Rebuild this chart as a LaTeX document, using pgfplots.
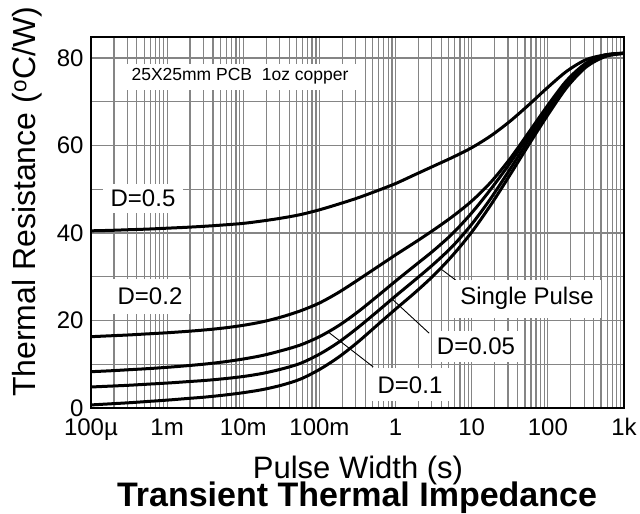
\documentclass[border=0pt]{standalone}
\usepackage{pgfplots}
\usepackage{pgfplotstable}
\pgfplotsset{compat=1.18}
\usepackage{fontspec}
\setmainfont{Liberation Sans}
\pgfplotstableread{
x        d5     d2    d1     d05    sp
1e-4     40.5   16.3  8.3    4.8    0.7
1.778e-4 40.6   16.5  8.5    5.0    0.95
3.162e-4 40.75  16.7  8.75   5.2    1.2
5.623e-4 40.9   16.95 9.0    5.45   1.5
1e-3     41.1   17.2  9.3    5.7    1.8
1.778e-3 41.3   17.5  9.65   6.0    2.15
3.162e-3 41.55  17.85 10.05  6.3    2.5
5.623e-3 41.85  18.3  10.55  6.7    2.95
1e-2     42.2   18.9  11.2   7.2    3.5
1.778e-2 42.75  19.7  12.0   7.9    4.2
3.162e-2 43.4   20.8  13.1   8.9    5.2
5.623e-2 44.2   22.2  14.4   10.2   6.6
0.1      45.3   24.0  16.3   12.3   8.8
0.1778   46.6   26.4  18.8   15.0   11.6
0.3162   48.0   29.2  21.9   18.3   15.0
0.5623   49.6   32.1  25.4   21.9   18.8
1        51.3   35.0  29.0   25.6   22.6
1.778    53.3   37.8  32.5   29.2   26.3
3.162    55.3   40.7  36.0   32.9   30.3
5.623    57.3   43.8  39.9   37.0   34.9
10       59.5   47.3  44.6   42.0   40.2
17.78    62.2   51.6  50.0   47.9   46.4
31.62    65.5   56.9  55.9   54.5   53.2
56.23    69.3   63.0  62.3   61.3   60.2
100      73.3   69.2  68.6   67.9   67.0
177.8    77.0   74.9  74.4   73.9   73.3
316.2    79.6   78.8  78.6   78.3   77.9
562.3    80.7   80.7  80.6   80.5   80.3
1000     81.0   81.1  81.1   81.1   81.1
}\zth
\begin{document}
\begin{tikzpicture}
\begin{axis}[
  name=ax, at={(0,0)}, anchor=south west,
  scale only axis, width=533bp, height=371bp,
  xmode=log, xmin=1e-4, xmax=1e3, ymin=0, ymax=84.8,
  xtick={1e-4,1e-3,1e-2,1e-1,1,10,100,1000},
  xticklabels={100µ,1m,10m,100m,1,10,100,1k},
  ytick={0,20,40,60,80}, yticklabels={0,20,40,60,80},
  minor ytick={10,30,50,70},
  grid=both,
  major grid style={black!48, line width=1.2bp},
  minor grid style={black!48, line width=1.2bp},
  major tick length=0pt, minor tick length=0pt,
  axis line style={line width=2.5bp},
  ticklabel style={font=\fontsize{24bp}{28bp}\selectfont},
  xticklabel style={yshift=-7bp},
  yticklabel style={xshift=-4bp},
  clip=true,
]
\addplot[black, line width=3bp, smooth] table[x=x, y=d5] {\zth};
\addplot[black, line width=3bp, smooth] table[x=x, y=d2] {\zth};
\addplot[black, line width=3bp, smooth] table[x=x, y=d1] {\zth};
\addplot[black, line width=3bp, smooth] table[x=x, y=d05] {\zth};
\addplot[black, line width=3bp, smooth] table[x=x, y=sp] {\zth};
% leader lines
\draw[black, line width=0.9bp] (axis cs:6.65,28.8) -- (axis cs:3.86,31.9);
\draw[black, line width=0.9bp] (axis cs:2.76,17.1) -- (axis cs:0.90,24.9);
\draw[black, line width=0.9bp] (axis cs:0.508,9.4) -- (axis cs:0.130,17.4);
\end{axis}
\begin{scope}[every node/.style={font=\fontsize{24bp}{28bp}\selectfont}]
\node[fill=white, inner xsep=8bp, inner ysep=6bp, anchor=base] at ([xshift=52bp,yshift=201bp]ax.south west) {D=0.5};
\node[fill=white, inner xsep=8bp, inner ysep=9bp, anchor=base] at ([xshift=59bp,yshift=103bp]ax.south west) {D=0.2};
\node[fill=white, inner xsep=7bp, inner ysep=8bp, anchor=base] at ([xshift=436bp,yshift=103bp]ax.south west) {Single Pulse};
\node[fill=white, inner xsep=5bp, inner ysep=7bp, anchor=base] at ([xshift=385bp,yshift=53bp]ax.south west) {D=0.05};
\node[fill=white, inner xsep=7bp, inner ysep=8bp, anchor=base] at ([xshift=319bp,yshift=15bp]ax.south west) {D=0.1};
\node[fill=white, inner xsep=14bp, inner ysep=5bp, anchor=base, font=\fontsize{17.5bp}{20bp}\selectfont] at ([xshift=149bp,yshift=327bp]ax.south west) {25X25mm PCB\ \ 1oz copper};
\end{scope}
\node[rotate=90, font=\fontsize{32bp}{36bp}\selectfont] at ([xshift=-64bp,yshift=206bp]ax.south west) {Thermal Resistance (\textsuperscript{o}C/W)};
\node[anchor=base, font=\fontsize{31bp}{36bp}\selectfont] at ([xshift=267bp,yshift=-70bp]ax.south west) {Pulse Width (s)};
\node[anchor=base, font=\bfseries\fontsize{34bp}{38bp}\selectfont] at ([xshift=266bp,yshift=-98bp]ax.south west) {Transient Thermal Impedance};
\pgfresetboundingbox
\path[use as bounding box] ([xshift=-91bp,yshift=-106bp]ax.south west) rectangle ([xshift=549bp,yshift=408bp]ax.south west);
\end{tikzpicture}
\end{document}
